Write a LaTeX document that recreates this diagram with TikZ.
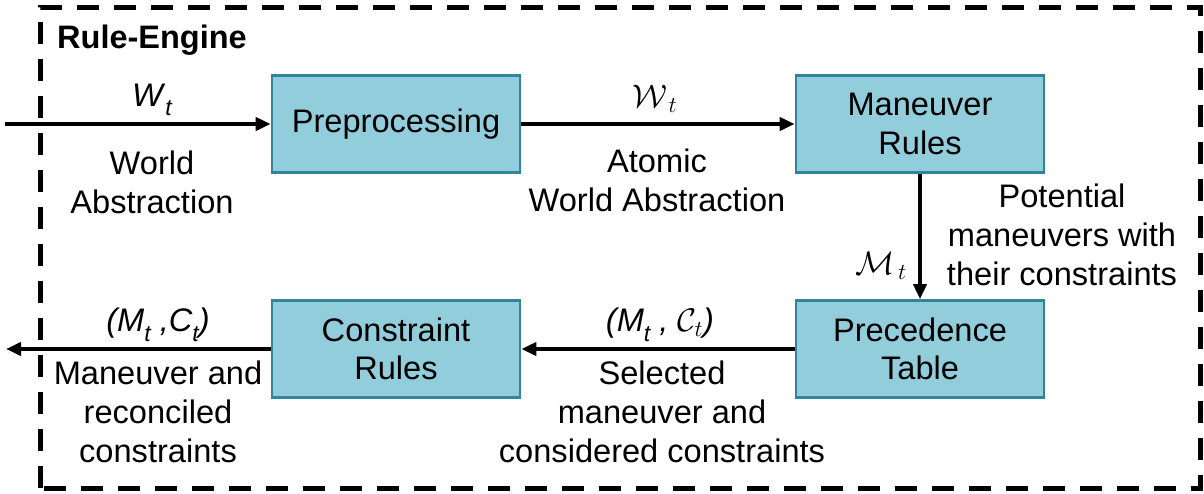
\RequirePackage{fix-cm}
\documentclass[tikz,border=0pt]{standalone}
\usepackage{fontspec}
\setmainfont{Liberation Sans}
\usetikzlibrary{arrows.meta}

\definecolor{boxfill}{HTML}{92CDDC}
\definecolor{boxline}{HTML}{31849B}

% lowered italic subscript in the text font
\newcommand\lowsub[1]{\raisebox{-0.3em}{\fontsize{23}{23}\selectfont\itshape #1}}

\tikzset{
  x=1pt, y=-1pt,
  block/.style={draw=boxline, line width=2.6pt, fill=boxfill,
    minimum width=248pt, minimum height=97pt, align=center,
    font=\fontsize{32.6}{38.5}\selectfont},
  lbl/.style={align=center, font=\fontsize{32.6}{39}\selectfont, inner sep=0pt},
  mlbl/.style={inner sep=0pt, font=\fontsize{32.6}{38}\selectfont},
  flow/.style={line width=4pt, -{Triangle[length=15pt,width=13pt]}},
  frame/.style={line width=5pt, dash pattern=on 22pt off 15pt}
}

\begin{document}
\begin{tikzpicture}
\useasboundingbox (0,0) rectangle (1204,493);

% dashed engine boundary
\draw[frame] (40,488) -- (40,7) -- (1200,7) -- (1200,488) -- cycle;
\node[anchor=west, inner sep=0pt, font=\fontsize{32.5}{38}\selectfont\bfseries] (title) at (57,40) {Rule-Engine};

% processing blocks
\node[block] (pre) at (396,124) {Preprocessing};
\node[block] (man) at (920,124) {Maneuver\\Rules};
\node[block] (prec) at (920,349) {Precedence\\Table};
\node[block] (con) at (396,349) {Constraint\\Rules};

% free ends of the input and output flows
\coordinate (in) at (5,124);
\coordinate (out) at (6,349);

% connectors
\draw[flow] (in) -- (pre.west);
\draw[flow] (pre.east) -- (man.west);
\draw[flow] (man.south) -- (prec.north);
\draw[flow] (prec.west) -- (con.east);
\draw[flow] (con.west) -- (out);

% flow labels
\node[mlbl] (wt) at (152,100) {\textit{W}\lowsub{t}};
\node[lbl] (wa) at (152,182) {World\\Abstraction};
\node[mlbl] (awt) at (655,99) {$\mathcal{W}_{\,t}$};
\node[lbl] (awa) at (657,180) {Atomic\\World Abstraction};
\node[mlbl, anchor=east] (mt) at (907,266) {$\mathcal{M}_{\,t}$};
\node[lbl] (pm) at (1062,235) {Potential\\maneuvers with\\their constraints};
\node[mlbl] (mct) at (660,325) {\textit{(M\lowsub{t} , }$\mathcal{C}_t$\textit{)}};
\node[lbl] (sm) at (662,412) {Selected\\maneuver and\\considered constraints};
\node[mlbl] (rct) at (158,325) {\textit{(M\lowsub{t} ,C\lowsub{t})}};
\node[lbl] (rm) at (158,412) {Maneuver and\\reconciled\\constraints};
\end{tikzpicture}
\end{document}
